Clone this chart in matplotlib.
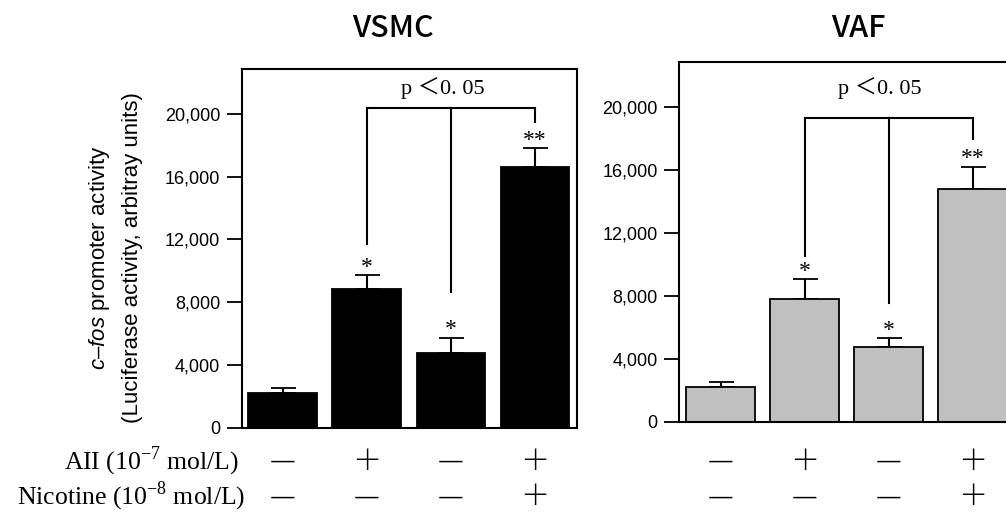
import matplotlib
matplotlib.use("Agg")
import matplotlib.pyplot as plt
from matplotlib import transforms

plt.rcParams["font.family"] = ["Liberation Sans", "DejaVu Sans"]
plt.rcParams["mathtext.fontset"] = "custom"
plt.rcParams["mathtext.it"] = "Liberation Sans:italic"
plt.rcParams["mathtext.rm"] = "Liberation Sans"

# treatment rows under the bars
all_signs = ["−", "+", "−", "+"]
nic_signs = ["−", "−", "−", "+"]
row_labels = ["AII (10$^{\\mathregular{-7}}$ mol/L)", "Nicotine (10$^{\\mathregular{-8}}$ mol/L)"]

# VSMC panel
vsmc_mean = [2230, 8820, 4780, 16640]
vsmc_err = [280, 900, 960, 1170]
vsmc_stars = ["", "*", "*", "**"]
vsmc_bracket = 20400
vsmc_legs = [11690, 8670, 19510]

# VAF panel
vaf_mean = [2210, 7830, 4730, 14830]
vaf_err = [300, 1250, 570, 1400]
vaf_stars = ["", "*", "*", "**"]
vaf_bracket = 19330
vaf_legs = [10540, 7570, 17970]

yticks = [0, 4000, 8000, 12000, 16000, 20000]

fig = plt.figure(figsize=(10.06, 5.13), dpi=100)
ax1 = fig.add_axes([0.2403, 0.1663, 0.3333, 0.6992])
ax2 = fig.add_axes([0.6753, 0.178, 0.3333, 0.7006])

x = range(len(vsmc_mean))
row_y = [0.100, 0.031]


def sign(s):
    return "＋" if s == "+" else "—"


def panel(ax, mean, err, stars, bracket, legs, color, title, title_x, plabel_y):
    ax.bar(x, mean, width=0.82, color=color, edgecolor="black", linewidth=1.3, zorder=2)
    ax.errorbar(x, mean, yerr=[[0] * len(err), err], fmt="none", ecolor="black",
                elinewidth=1.5, capsize=9, capthick=1.3, zorder=1)
    for i, s in enumerate(stars):
        if s:
            ax.text(i, mean[i] + err[i] + 150, s, ha="center", va="baseline",
                    fontsize=17, family=["Liberation Serif", "DejaVu Serif"])
    # significance bracket over bars 2-4
    ax.plot([1, 3], [bracket, bracket], color="black", lw=1.5)
    for i, b in zip([1, 2, 3], legs):
        ax.plot([i, i], [b, bracket], color="black", lw=1.5)
    ax.text(1.9, plabel_y, "p ＜0. 05", ha="center", va="center", fontsize=16,
            family=["Liberation Serif", "Noto Sans CJK JP"])

    ax.set_xlim(-0.49, 3.5)
    ax.set_ylim(0, 22870)
    ax.set_yticks(yticks)
    ax.set_yticklabels([f"{v:,}" for v in yticks], fontsize=13)
    ax.set_xticks([])
    ax.tick_params(axis="y", direction="out", length=10.5, width=1.3, pad=5)
    for sp in ax.spines.values():
        sp.set_linewidth(1.5)

    fig.text(title_x, 0.945, title, ha="center", va="center", fontsize=22,
             family=["Noto Sans CJK JP"], fontweight="medium")

    tr = transforms.blended_transform_factory(ax.transData, fig.transFigure)
    for i in x:
        ax.text(i, row_y[0], sign(all_signs[i]), transform=tr,
                ha="center", va="center", fontsize=21, family=["Noto Sans CJK JP"],
                fontweight="light", clip_on=False)
        ax.text(i, row_y[1], sign(nic_signs[i]), transform=tr,
                ha="center", va="center", fontsize=21, family=["Noto Sans CJK JP"],
                fontweight="light", clip_on=False)


panel(ax1, vsmc_mean, vsmc_err, vsmc_stars, vsmc_bracket, vsmc_legs, "black", "VSMC", 0.391, 21650)
panel(ax2, vaf_mean, vaf_err, vaf_stars, vaf_bracket, vaf_legs, "#c0c0c0", "VAF", 0.853, 21240)

# y axis label
fig.text(0.099, 0.497, "$\\mathit{c}$–$\\mathit{fos}$ promoter activity", rotation=90,
         ha="center", va="center", fontsize=16)
fig.text(0.132, 0.497, "(Luciferase activity, arbitray units)", rotation=90,
         ha="center", va="center", fontsize=16)

# row labels
fig.text(0.237, row_y[0], row_labels[0], ha="right", va="center", fontsize=18.5,
         family=["Liberation Serif", "DejaVu Serif"])
fig.text(0.244, row_y[1], row_labels[1], ha="right", va="center", fontsize=18.5,
         family=["Liberation Serif", "DejaVu Serif"])

fig.savefig("out.png", dpi=100)
